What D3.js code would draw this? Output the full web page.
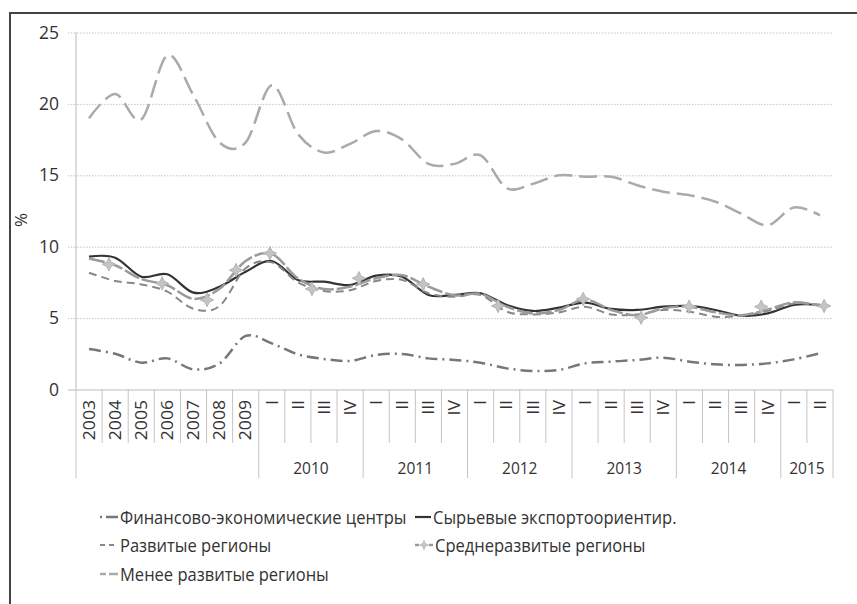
<!DOCTYPE html>
<html><head><meta charset="utf-8">
<script src="https://cdn.jsdelivr.net/npm/d3@7"></script>
<style>
html,body{margin:0;padding:0;background:#fff;}
svg text{font-family:"Open Sans",sans-serif;fill:#333;}
</style></head>
<body><svg id="chart" width="857" height="604"></svg>
<script>
// ---- data ----
const categories = ["2003","2004","2005","2006","2007","2008","2009",
  "I","II","III","IV","I","II","III","IV","I","II","III","IV",
  "I","II","III","IV","I","II","III","IV","I","II"];
const groupLabels = ["","2010","2011","2012","2013","2014","2015"];
const groupSizes  = [7,4,4,4,4,4,2];
const yTicks = [0,5,10,15,20,25];

const finCenters = [2.83,2.5,1.88,2.18,1.41,1.83,3.75,3.23,2.46,2.14,2.0,2.42,2.49,2.18,2.07,1.88,1.48,1.3,1.37,1.83,1.95,2.07,2.23,1.95,1.76,1.72,1.83,2.11,2.53];
const rawExport  = [9.3,9.23,7.9,8.07,6.78,7.2,8.25,9.0,7.67,7.55,7.32,7.97,7.9,6.62,6.62,6.74,5.92,5.5,5.73,6.08,5.64,5.57,5.8,5.85,5.57,5.17,5.33,5.92,5.92];
const developed  = [8.18,7.6,7.36,6.85,5.65,5.85,8.49,8.9,7.5,6.9,6.95,7.6,7.67,6.74,6.5,6.62,5.45,5.26,5.4,5.8,5.26,5.26,5.57,5.45,5.1,5.17,5.5,6.03,5.9];
const midDev     = [9.18,8.7,7.74,7.3,6.35,7.05,9.0,9.5,7.78,7.04,7.2,7.79,8.0,7.2,6.6,6.7,5.8,5.33,5.57,6.3,5.57,5.2,5.68,5.8,5.4,5.2,5.6,6.1,5.85];
const lessDev    = [19.0,20.7,18.9,23.4,20.6,17.3,17.3,21.3,17.9,16.6,17.2,18.1,17.5,15.8,15.8,16.4,14.1,14.4,15.0,14.9,14.9,14.3,13.85,13.6,13.15,12.3,11.5,12.75,12.2];
// markers of "Среднеразвитые регионы" as seen in the picture (category position, value)
const midMarkerPos = [0.76,2.8,4.52,5.63,6.93,8.54,10.34,12.8,15.67,18.93,21.15,22.99,25.75,28.16];
const midMarkerVal = [8.77,7.43,6.27,8.36,9.54,7.04,7.79,7.37,5.85,6.34,5.03,5.8,5.8,5.85];

const seriesNames = ["Финансово-экономические центры","Сырьевые экспортоориентир.","Развитые регионы","Среднеразвитые регионы","Менее развитые регионы"];

// ---- layout ----
const svg = d3.select("#chart");
const L = 76, R = 833, T = 32.5, B = 389.5;
const xb = d3.scaleBand().domain(d3.range(categories.length)).range([L,R]);
const xi = d3.scaleLinear().domain([-0.5, categories.length-0.5]).range([L,R]);
const y = d3.scaleLinear().domain([0,25]).range([B,T]);

// frame
svg.append("line").attr("x1",10).attr("x2",10).attr("y1",13).attr("y2",604).attr("stroke","#444").attr("stroke-width",2);
svg.append("line").attr("x1",9).attr("x2",857).attr("y1",13).attr("y2",13).attr("stroke","#444").attr("stroke-width",2);

// y axis with grid
const gy = svg.append("g").attr("transform","translate(68,0)")
  .call(d3.axisLeft(y).tickValues(yTicks).tickSize(-(R-68)).tickPadding(9));
gy.select(".domain").remove();
gy.selectAll(".tick line").attr("stroke","#c4c4c4").attr("stroke-dasharray","1.5,1.5");
gy.selectAll(".tick").filter(d=>d===0).select("line").attr("stroke","#bbb").attr("stroke-dasharray",null);
gy.selectAll(".tick text").style("font-size","17.5px").attr("fill","#333");
svg.append("line").attr("x1",L).attr("x2",L).attr("y1",T).attr("y2",B).attr("stroke","#bbb");

svg.append("text").attr("transform","translate(27,220) rotate(-90)")
  .attr("text-anchor","middle").style("font-size","17px").text("%");

// x axis: category separators & labels
const groupStarts = [];
let acc = 0;
groupSizes.forEach(s=>{groupStarts.push(acc); acc+=s;});
const isGroupEdge = i => groupStarts.includes(i) || i===categories.length;
const xa = svg.append("g");
d3.range(categories.length+1).forEach(i=>{
  const xx = i<categories.length ? xb(i) : R;
  xa.append("line").attr("x1",xx).attr("x2",xx).attr("y1",B)
    .attr("y2", isGroupEdge(i) ? 478 : 443).attr("stroke","#c4c4c4");
});
xa.selectAll("text.cat").data(categories).join("text").attr("class","cat")
  .attr("transform",(d,i)=>`translate(${xi(i)},400) rotate(-90) scale(1.1,1)`)
  .attr("text-anchor","end").attr("dy","0.36em").style("font-size","16px").text(d=>d);
xa.selectAll("text.grp").data(groupLabels).join("text").attr("class","grp")
  .attr("x",(d,i)=>(xi(groupStarts[i]-0.5)+xi(groupStarts[i]+groupSizes[i]-0.5))/2)
  .attr("y",474).attr("text-anchor","middle").style("font-size","15.5px").text(d=>d);

// series
const styles = [
  {data:finCenters, color:"#777", w:2.5, dash:"12,5,2,5"},
  {data:rawExport,  color:"#333", w:2.2, dash:null},
  {data:developed,  color:"#888", w:2,   dash:"8,5"},
  {data:midDev,     color:"#9a9a9a", w:2.5, dash:"16,3"},
  {data:lessDev,    color:"#aaa", w:2.5, dash:"18,7"}
];
const line = d3.line().x((d,i)=>xi(i)).y(d=>y(d)).curve(d3.curveCatmullRom.alpha(0));
const gl = svg.append("g");
styles.forEach(s=>{
  gl.append("path").attr("d",line(s.data)).attr("fill","none")
    .attr("stroke",s.color).attr("stroke-width",s.w)
    .attr("stroke-dasharray",s.dash).attr("stroke-linejoin","round");
});

// 4-point star symbol
const star4 = {draw(ctx,size){
  const r = Math.sqrt(size)*0.75, q = r*0.32;
  ctx.moveTo(0,-r); ctx.lineTo(q,-q); ctx.lineTo(r,0); ctx.lineTo(q,q);
  ctx.lineTo(0,r); ctx.lineTo(-q,q); ctx.lineTo(-r,0); ctx.lineTo(-q,-q); ctx.closePath();
}};
gl.selectAll("path.mk").data(midMarkerPos).join("path").attr("class","mk")
  .attr("transform",(d,i)=>`translate(${xi(d)},${y(midMarkerVal[i])})`)
  .attr("d",d3.symbol().type(star4).size(80))
  .attr("fill","#c4c4c4").attr("stroke","#b4b4b4").attr("stroke-width",1);

// legend
const legendPos = [[100,517],[415,517],[100,545],[415,545],[100,574]];
const lg = svg.append("g");
styles.forEach((s,k)=>{
  const [lx,ly] = legendPos[k];
  const sw = k===1 ? 16 : 18;
  lg.append("line").attr("x1",lx).attr("x2",lx+sw).attr("y1",ly).attr("y2",ly)
    .attr("stroke",s.color).attr("stroke-width",s.w)
    .attr("stroke-dasharray", k===0?"2,4,12,0": k===2?"5,4": k===3?"4,10,4,0": k===4?"6,3,9,0": null);
  if(k===3){
    lg.append("path").attr("transform",`translate(${lx+9},${ly})`)
      .attr("d",d3.symbol().type(star4).size(60)).attr("fill","#c4c4c4");
  }
  lg.append("text").attr("transform",`translate(${lx+sw+2},${ly}) scale(0.87,1)`)
    .attr("dy","0.35em").style("font-size","19px").text(seriesNames[k]);
});
</script></body></html>
